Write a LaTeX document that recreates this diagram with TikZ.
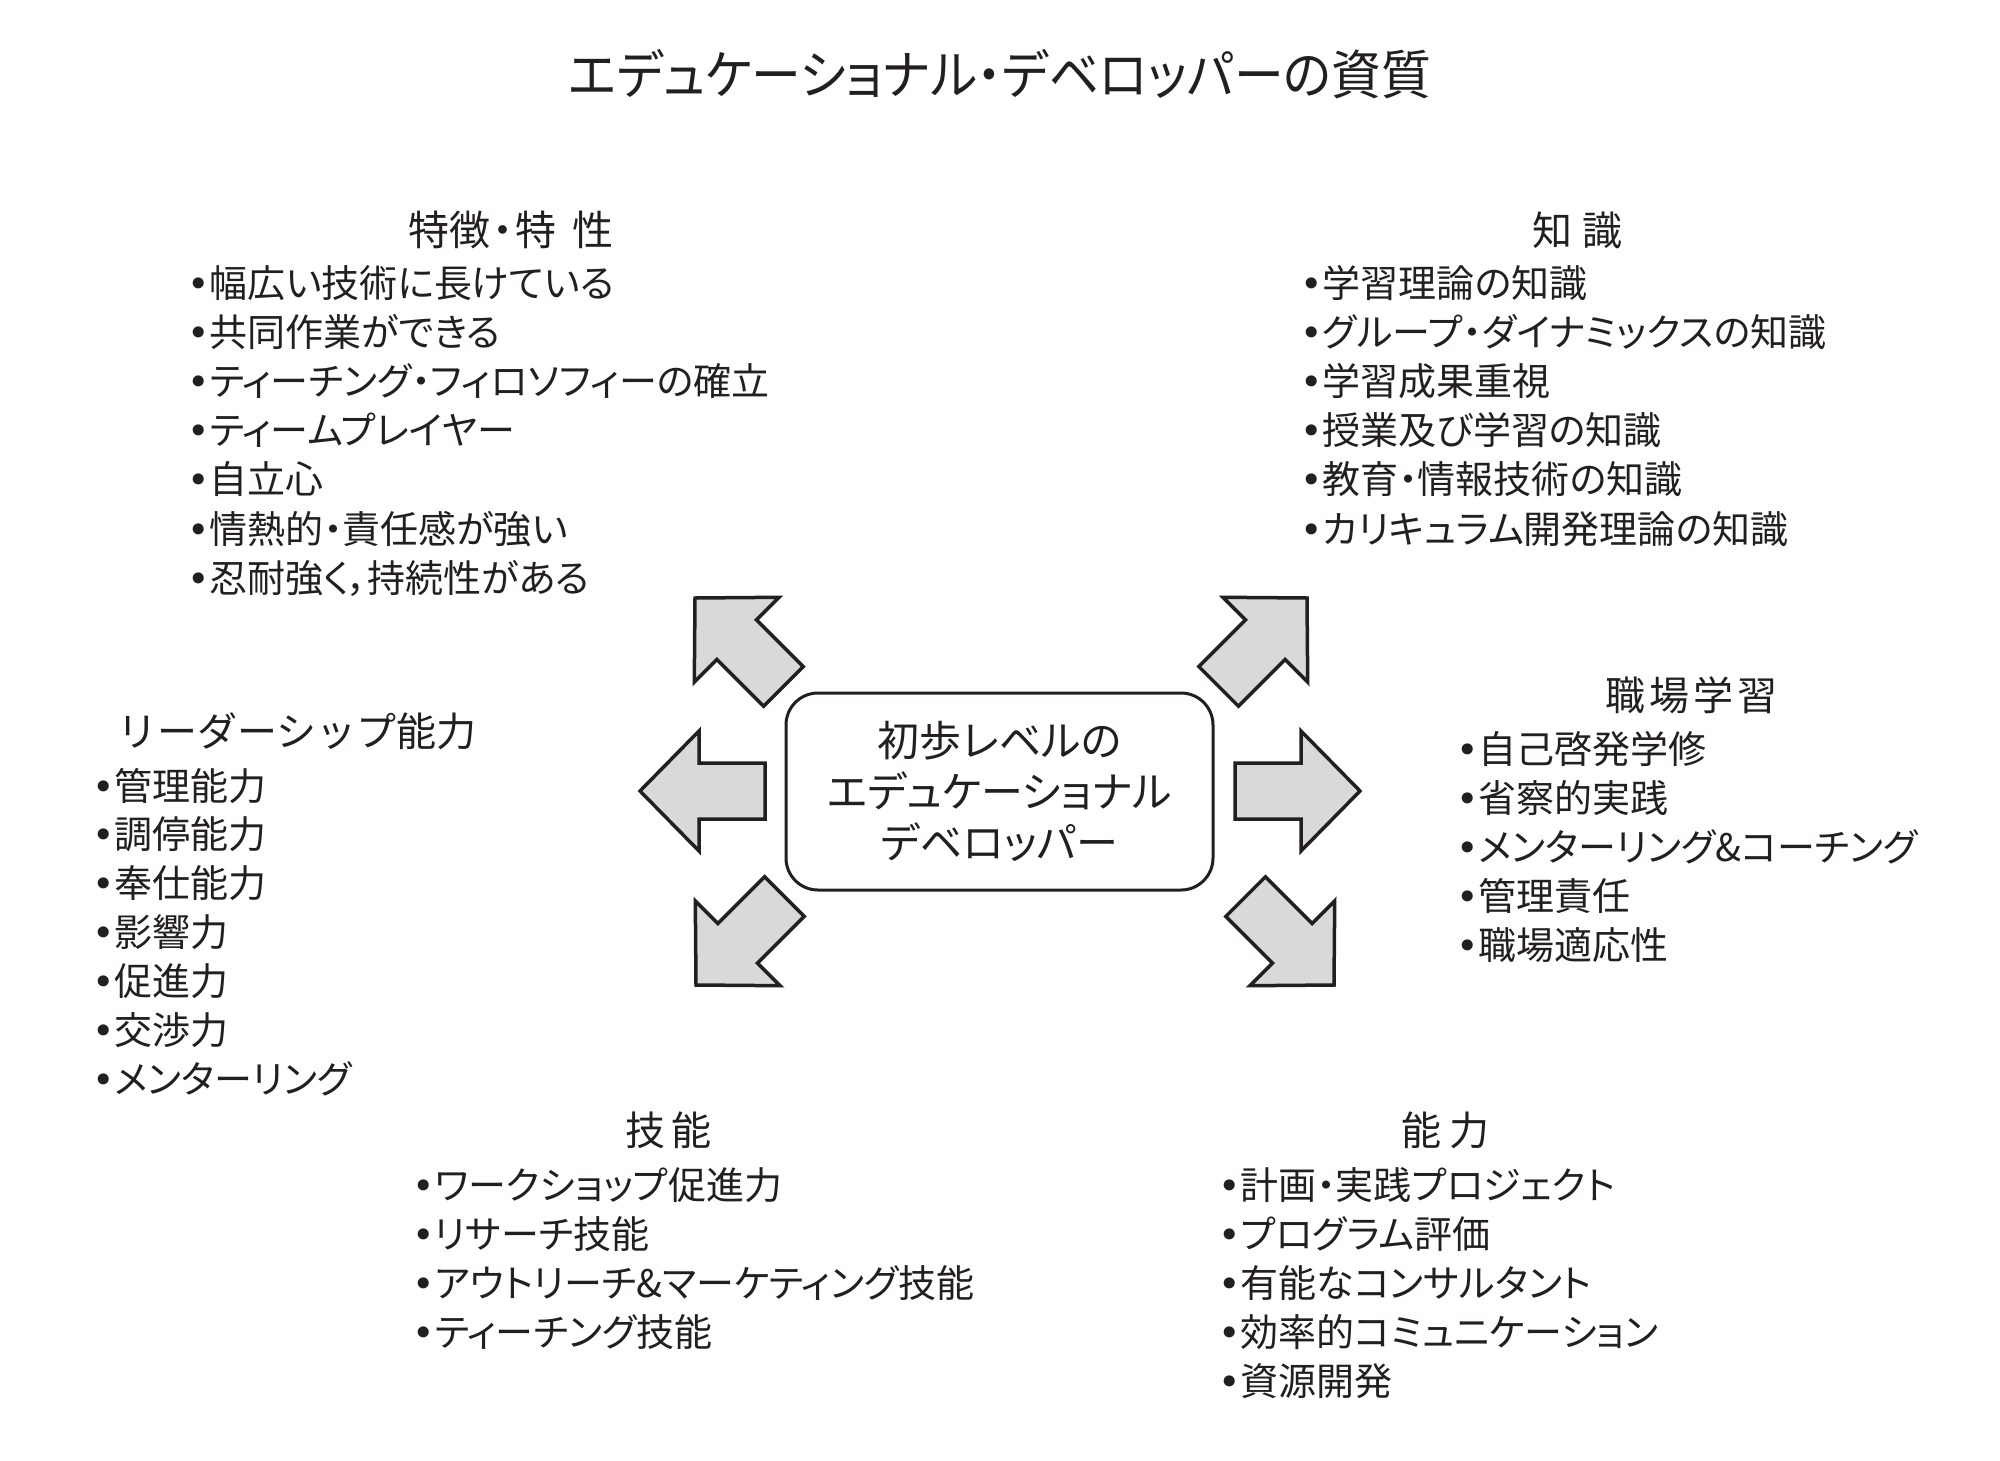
\documentclass[tikz,border=0pt]{standalone}
\usepackage{fontspec}
\setmainfont{Noto Sans CJK JP}[RawFeature=+palt]
\newfontfamily\headfont{Noto Sans CJK JP}
\newfontfamily\headpfont{Noto Sans CJK JP}[RawFeature=+palt]
\newfontfamily\ttlfont{Noto Sans CJK JP}[RawFeature=+palt,FakeStretch=0.94]
\newfontfamily\bulfont{DejaVu Sans}
\newcommand\mybul{{\bulfont •}}
\definecolor{ink}{RGB}{35,31,32}
\definecolor{arrowfill}{RGB}{217,217,217}
\begin{document}
\begin{tikzpicture}[x=1pt,y=-1pt,
  item/.style={anchor=base west, inner sep=0pt, font=\fontsize{38}{44}\selectfont, text=ink},
  head/.style={anchor=base, inner sep=0pt, font=\headfont\fontsize{40}{48}\selectfont, text=ink},
  corebox/.style={draw=ink, line width=3pt, rounded corners=32pt, minimum width=427pt, minimum height=197pt, align=center, font=\fontsize{42}{51}\selectfont, text=ink, inner sep=0pt},
  bigarrow/.pic={\draw[ink, line width=3.5pt, fill=arrowfill, line join=miter]
     (0,0) -- (-59,-60) -- (-59,-28) -- (-125,-28) -- (-125,28) -- (-59,28) -- (-59,60) -- cycle;}
]
\useasboundingbox (0,0) rectangle (2000,1461);

% title
\node[anchor=base, inner sep=0pt, font=\ttlfont\fontsize{53}{60}\selectfont, text=ink] (title) at (1000,95) {エデュケーショナル・デベロッパーの資質};

% centre
\node[corebox] (core) at (999.5,791.5) {初歩レベルの\\エデュケーショナル\\デベロッパー};

% arrows
\coordinate (tipL) at (640,791);
\coordinate (tipR) at (1360,791);
\coordinate (tipUL) at (695,598);
\coordinate (tipUR) at (1307,598);
\coordinate (tipLL) at (696,985);
\coordinate (tipLR) at (1334,985);
\pic[rotate=180] at (tipL) {bigarrow};
\pic at (tipR) {bigarrow};
\pic[rotate=135] at (tipUL) {bigarrow};
\pic[rotate=45] at (tipUR) {bigarrow};
\pic[rotate=225] at (tipLL) {bigarrow};
\pic[rotate=-45] at (tipLR) {bigarrow};

% headings
\node[head, font=\headpfont\fontsize{41}{48}\selectfont] (h1) at (511,245) {特徴\hspace{2pt}・\hspace{2pt}特\hspace{16pt}性};
\node[head] (h2) at (1577,245) {知\hspace{10pt}識};
\node[head] (h3) at (297,746) {リーダーシップ能力};
\node[head] (h4) at (1691,710) {職\hspace{4pt}場\hspace{4pt}学\hspace{4pt}習};
\node[head] (h5) at (668,1145) {技\hspace{6pt}能};
\node[head] (h6) at (1445,1145) {能\hspace{8pt}力};

% items
\foreach \t [count=\i] in {幅広い技術に長けている,共同作業ができる,ティーチング・フィロソフィーの確立,ティームプレイヤー,自立心,情熱的・責任感が強い,忍耐強く，持続性がある}
  \node[item] (a\i) at ({187},{297+49.2*(\i-1)}) {\mybul\t};
\foreach \t [count=\i] in {学習理論の知識,グループ・ダイナミックスの知識,学習成果重視,授業及び学習の知識,教育・情報技術の知識,カリキュラム開発理論の知識}
  \node[item] (b\i) at ({1300},{297+49.2*(\i-1)}) {\mybul\t};
\foreach \t [count=\i] in {管理能力,調停能力,奉仕能力,影響力,促進力,交渉力,メンターリング}
  \node[item] (c\i) at ({92},{800+48.9*(\i-1)}) {\mybul\t};
\foreach \t [count=\i] in {自己啓発学修,省察的実践,メンターリング\&コーチング,管理責任,職場適応性}
  \node[item] (d\i) at ({1456},{763+49*(\i-1)}) {\mybul\t};
\foreach \t [count=\i] in {ワークショップ促進力,リサーチ技能,アウトリーチ\&マーケティング技能,ティーチング技能}
  \node[item] (e\i) at ({412},{1199+49*(\i-1)}) {\mybul\t};
\foreach \t [count=\i] in {計画・実践プロジェクト,プログラム評価,有能なコンサルタント,効率的コミュニケーション,資源開発}
  \node[item] (f\i) at ({1218},{1199+49*(\i-1)}) {\mybul\t};
\end{tikzpicture}
\end{document}
